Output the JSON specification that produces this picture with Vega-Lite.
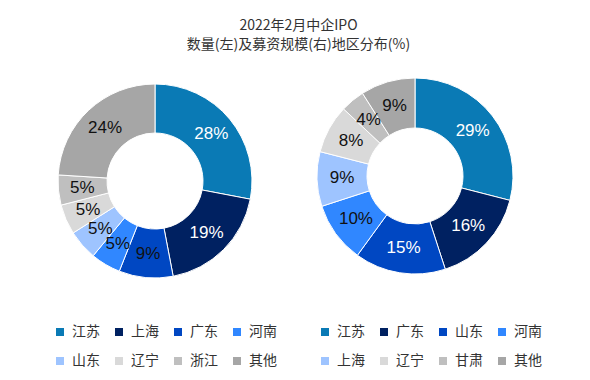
{
  "$schema": "https://vega.github.io/schema/vega-lite/v6.json",
  "background": "white",
  "padding": {"left": 35, "top": 19, "right": 5, "bottom": 5},
  "title": {
    "text": ["2022年2月中企IPO", "数量(左)及募资规模(右)地区分布(%)"],
    "font": "Noto Sans CJK SC",
    "fontSize": 14,
    "fontWeight": "normal",
    "color": "#333333",
    "lineHeight": 19,
    "anchor": "middle",
    "dx": 10,
    "offset": 24
  },
  "config": {
    "view": {"stroke": null},
    "concat": {"spacing": 18},
    "legend": {
      "orient": "none",
      "direction": "horizontal",
      "columns": 4,
      "symbolType": "square",
      "symbolSize": 64,
      "symbolStrokeWidth": 0,
      "labelFont": "Noto Sans CJK SC",
      "labelFontSize": 14,
      "labelColor": "#333333",
      "labelOffset": 5,
      "columnPadding": 12,
      "rowPadding": 15,
      "title": null
    }
  },
  "resolve": {"scale": {"color": "independent", "theta": "independent"}, "legend": {"color": "independent"}},
  "hconcat": [
    {
      "width": 240,
      "height": 210,
      "data": {"values": [
        {"i": 1, "name": "江苏", "p": 0.28},
        {"i": 2, "name": "上海", "p": 0.19},
        {"i": 3, "name": "广东", "p": 0.09},
        {"i": 4, "name": "河南", "p": 0.05},
        {"i": 5, "name": "山东", "p": 0.05},
        {"i": 6, "name": "辽宁", "p": 0.05},
        {"i": 7, "name": "浙江", "p": 0.05},
        {"i": 8, "name": "其他", "p": 0.24}
      ]},
      "encoding": {
        "theta": {"field": "p", "type": "quantitative", "stack": true},
        "order": {"field": "i", "type": "quantitative"}
      },
      "layer": [
        {
          "mark": {"type": "arc", "innerRadius": 48, "outerRadius": 97, "stroke": "white", "strokeWidth": 1},
          "encoding": {
            "color": {
              "field": "name", "type": "nominal",
              "scale": {
                "domain": ["江苏", "上海", "广东", "河南", "山东", "辽宁", "浙江", "其他"],
                "range": ["#0A7AB5", "#002161", "#0047C2", "#3087FF", "#9EC4FF", "#D9D9D9", "#BFBFBF", "#A6A6A6"]
              },
              "legend": {"legendX": 18, "legendY": 249}
            }
          }
        },
        {
          "mark": {"type": "text", "radius": 73, "fontSize": 17, "font": "Liberation Sans"},
          "encoding": {
            "text": {"field": "p", "type": "quantitative", "format": ".0%"},
            "color": {"condition": {"test": "datum.p >= 0.15 && datum.name != '其他'", "value": "white"}, "value": "#111111"}
          }
        }
      ]
    },
    {
      "width": 240,
      "height": 200,
      "data": {"values": [
        {"i": 1, "name": "江苏", "p": 0.29},
        {"i": 2, "name": "广东", "p": 0.16},
        {"i": 3, "name": "山东", "p": 0.15},
        {"i": 4, "name": "河南", "p": 0.10},
        {"i": 5, "name": "上海", "p": 0.09},
        {"i": 6, "name": "辽宁", "p": 0.08},
        {"i": 7, "name": "甘肃", "p": 0.04},
        {"i": 8, "name": "其他", "p": 0.09}
      ]},
      "encoding": {
        "theta": {"field": "p", "type": "quantitative", "stack": true},
        "order": {"field": "i", "type": "quantitative"}
      },
      "layer": [
        {
          "mark": {"type": "arc", "innerRadius": 48, "outerRadius": 98, "stroke": "white", "strokeWidth": 1},
          "encoding": {
            "color": {
              "field": "name", "type": "nominal",
              "scale": {
                "domain": ["江苏", "广东", "山东", "河南", "上海", "辽宁", "甘肃", "其他"],
                "range": ["#0A7AB5", "#002161", "#0047C2", "#3087FF", "#9EC4FF", "#D9D9D9", "#BFBFBF", "#A6A6A6"]
              },
              "legend": {"legendX": 23, "legendY": 249}
            }
          }
        },
        {
          "mark": {"type": "text", "radius": 73, "fontSize": 17, "font": "Liberation Sans"},
          "encoding": {
            "text": {"field": "p", "type": "quantitative", "format": ".0%"},
            "color": {"condition": {"test": "datum.p >= 0.15 && datum.name != '其他'", "value": "white"}, "value": "#111111"}
          }
        }
      ]
    }
  ]
}
